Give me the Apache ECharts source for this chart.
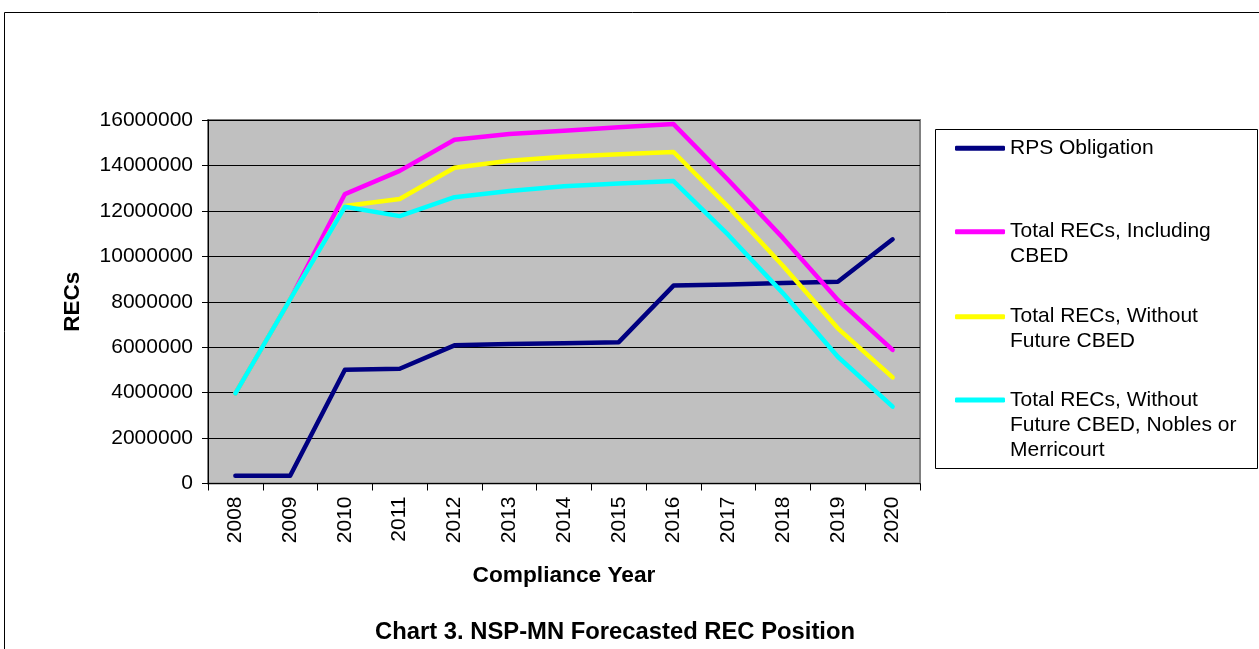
<!DOCTYPE html>
<html>
<head>
<meta charset="utf-8">
<script src="https://cdn.jsdelivr.net/npm/echarts@6/dist/echarts.min.js"></script>
<style>
html,body{margin:0;padding:0;background:#fff;}
#chart{width:1259px;height:649px;}
</style>
</head>
<body>
<div id="chart"></div>
<script>
const categories = ['2008','2009','2010','2011','2012','2013','2014','2015','2016','2017','2018','2019','2020'];
const yTicks = [0, 2000000, 4000000, 6000000, 8000000, 10000000, 12000000, 14000000, 16000000];
const seriesNames = ['RPS Obligation', 'Total RECs, Including\nCBED', 'Total RECs, Without\nFuture CBED', 'Total RECs, Without\nFuture CBED, Nobles or\nMerricourt'];
const rpsObligation = [340000, 340000, 5010000, 5050000, 6080000, 6140000, 6170000, 6220000, 8710000, 8760000, 8820000, 8880000, 10750000];
const totalIncluding = [3970000, 8100000, 12740000, 13760000, 15130000, 15380000, 15530000, 15680000, 15820000, 13360000, 10800000, 8080000, 5880000];
const totalWithout = [3970000, 8100000, 12210000, 12520000, 13900000, 14210000, 14380000, 14490000, 14590000, 12180000, 9570000, 6830000, 4670000];
const totalWithoutNobles = [3970000, 8100000, 12180000, 11770000, 12600000, 12870000, 13080000, 13210000, 13310000, 10940000, 8370000, 5580000, 3380000];

const colors = ['#000080', '#FF00FF', '#FFFF00', '#00FFFF'];
const seriesData = [rpsObligation, totalIncluding, totalWithout, totalWithoutNobles];
const FONT = '"Liberation Sans", Arial, sans-serif';

const chart = echarts.init(document.getElementById('chart'), null, {renderer: 'canvas'});

const legendTops = [135.8, 194.2, 279.2, 337.5];

const legends = seriesNames.map((n, i) => ({
  show: true,
  orient: 'vertical',
  left: 955,
  top: legendTops[i],
  padding: 0,
  itemWidth: 50,
  itemHeight: 5,
  icon: 'roundRect',
  selectedMode: false,
  data: [n],
  formatter: function (name) {
    const extra = name.split('\n').length - 1;
    return '\n'.repeat(extra) + name;
  },
  textStyle: {fontFamily: FONT, fontSize: 21, lineHeight: 25, color: '#000'}
}));

const option = {
  backgroundColor: '#ffffff',
  animation: false,
  color: colors,
  textStyle: {fontFamily: FONT},
  grid: {
    left: 208, top: 120, right: 339, bottom: 165.5,
    show: true, backgroundColor: '#C0C0C0', borderColor: '#808080', borderWidth: 2
  },
  legend: legends,
  xAxis: {
    type: 'category',
    data: categories,
    boundaryGap: true,
    name: 'Compliance Year',
    nameLocation: 'middle',
    nameGap: 81,
    nameTextStyle: {fontFamily: FONT, fontSize: 22.7, fontWeight: 'bold', color: '#000', verticalAlign: 'top'},
    axisLine: {show: true, lineStyle: {color: '#000', width: 1}},
    axisTick: {show: true, length: 7, lineStyle: {color: '#000'}},
    axisLabel: {rotate: 90, margin: 13, fontSize: 21, fontFamily: FONT, color: '#000'},
    splitLine: {show: false}
  },
  yAxis: {
    type: 'value',
    min: 0, max: 16000000, interval: 2000000,
    name: 'RECs',
    nameLocation: 'middle',
    nameRotate: 90,
    nameGap: 124,
    nameTextStyle: {fontFamily: FONT, fontSize: 22.5, fontWeight: 'bold', color: '#000'},
    axisLine: {show: true, lineStyle: {color: '#000', width: 1}},
    axisTick: {show: true, length: 6, lineStyle: {color: '#000'}},
    axisLabel: {margin: 15, fontSize: 21, fontFamily: FONT, color: '#000',
      formatter: v => yTicks.indexOf(v) >= 0 ? String(v) : ''},
    splitLine: {show: true, lineStyle: {color: '#000', width: 1}}
  },
  series: seriesNames.map((n, i) => ({
    name: n,
    type: 'line',
    data: seriesData[i],
    symbol: 'none',
    showSymbol: false,
    lineStyle: {color: colors[i], width: 4.5, cap: 'round', join: 'round'},
    itemStyle: {color: colors[i]},
    z: 2 + i
  })),
  graphic: [
    {type: 'rect', shape: {x: 4.5, y: 12.5, width: 1300, height: 700}, style: {fill: 'none', stroke: '#000', lineWidth: 1}, silent: true, z: -10},
    {type: 'rect', shape: {x: 935.5, y: 129.5, width: 322, height: 339}, style: {fill: '#fff', stroke: '#000', lineWidth: 1}, silent: true, z: -5},
    {type: 'text', x: 615, y: 632, style: {text: 'Chart 3. NSP-MN Forecasted REC Position', font: 'bold 23.8px ' + FONT, fill: '#000', textAlign: 'center', textVerticalAlign: 'middle'}, silent: true}
  ]
};
chart.setOption(option);
</script>
</body>
</html>
